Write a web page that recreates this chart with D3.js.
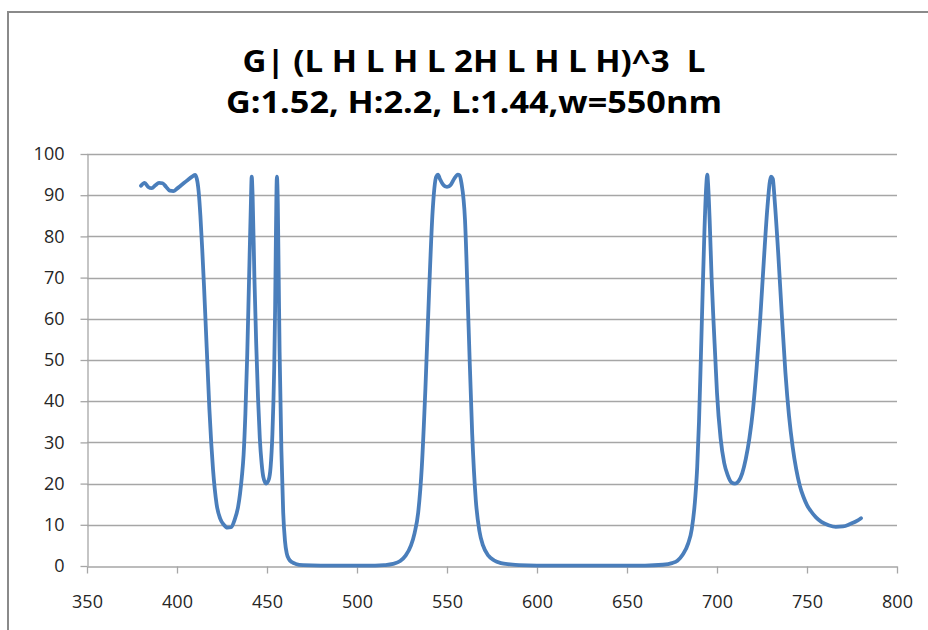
<!DOCTYPE html>
<html>
<head>
<meta charset="utf-8">
<script src="https://cdn.jsdelivr.net/npm/d3@7"></script>
<style>
  body { margin: 0; background: #fff; }
  svg text { font-family: "Open Sans", Lato, sans-serif; white-space: pre; }
</style>
</head>
<body>
<div id="theChart"></div>
<script>
const titleLines = ["G| (L H L H L 2H L H L H)^3  L", "G:1.52, H:2.2, L:1.44,w=550nm"]
const titleWidths = [463, 496]
const xTicks = [350, 400, 450, 500, 550, 600, 650, 700, 750, 800]
const yTicks = [0, 10, 20, 30, 40, 50, 60, 70, 80, 90, 100]

// wavelength (nm) and transmission (%)
const wavelength = [
	380, 382, 384, 386, 388, 390, 392, 394, 396, 398, 400, 402, 404, 406, 408, 410,
	411, 412, 413, 414, 415, 416, 417, 418, 419, 420, 422, 424, 426, 428, 430, 432,
	434, 435, 436, 437, 438, 439, 440, 441, 441.5, 442, 443, 444, 445, 446, 447, 448,
	449.5, 451, 452, 453, 454, 454.5, 455, 455.5, 456, 456.5, 457, 458, 459, 460,
	461, 462, 464, 466, 470, 480, 490, 500, 510, 515, 520, 524, 527, 530, 532, 534,
	536, 538, 540, 542, 544, 545, 546, 548, 550, 552, 554, 556, 557, 558, 560, 562,
	564, 566, 568, 570, 573, 576, 580, 585, 590, 600, 620, 640, 660, 670, 675, 678,
	681, 684, 686, 688, 689, 690, 691, 692, 693, 694, 694.6, 695, 696, 697, 698, 699,
	700, 702, 704, 706, 708, 710, 712, 714, 716, 718, 720, 722, 724, 726, 728, 730,
	731, 732, 734, 736, 738, 740, 742, 744, 746, 748, 750, 752, 755, 758, 762, 766, 770,
	774, 778, 780
]
const transmission = [
	92.3, 93.0, 92.0, 91.7, 92.4, 93.0, 92.9, 92.0, 91.1, 91.0, 91.6, 92.3, 93.0, 93.7, 94.4, 94.9,
	94.0, 91.0, 85.0, 77.0, 68.0, 58.0, 48.0, 38.0, 30.0, 23.5, 15.0, 11.5, 10.0, 9.3, 9.4, 11.2,
	14.5, 17.5, 21.5, 27.0, 37.0, 51.0, 69.0, 87.0, 94.5, 90.0, 70.0, 54.0, 41.0, 31.0, 25.0, 21.5,
	20.0, 21.0, 24.0, 32.0, 48.0, 62.0, 82.0, 94.5, 88.0, 70.0, 52.0, 28.0, 13.0, 6.0,
	3.0, 1.8, 0.9, 0.5, 0.2, 0.1, 0.1, 0.1, 0.1, 0.2, 0.5, 1.2, 2.5, 5.0, 8.0, 13.0,
	24.0, 43.0, 66.0, 86.0, 94.5, 95.0, 94.0, 92.5, 92.0, 92.5, 94.0, 95.0, 94.8, 93.0, 84.0, 58.0,
	32.0, 16.0, 8.5, 5.0, 2.5, 1.4, 0.7, 0.4, 0.2, 0.1, 0.1, 0.1, 0.1, 0.3, 0.7, 1.3,
	2.8, 5.5, 9.0, 17.0, 24.0, 35.0, 50.0, 66.0, 81.0, 92.0, 95.0, 93.0, 83.0, 70.0, 60.0, 51.0,
	42.0, 31.0, 25.0, 22.0, 20.3, 20.0, 20.6, 22.5, 26.0, 31.0, 38.0, 48.0, 60.0, 74.0, 87.0, 94.5,
	94.0, 89.0, 76.0, 61.0, 47.0, 36.5, 29.0, 23.5, 19.5, 16.8, 14.8, 13.4, 11.8, 10.7, 9.9, 9.5, 9.6,
	10.2, 11.0, 11.6
]

const w = 928
const h = 630
const margin = { top: 154, right: 31, bottom: 64, left: 87 }

const svg = d3
	.select("#theChart")
	.append("svg")
	.attr("width", w)
	.attr("height", h)

// chart area frame
svg.append("rect")
	.attr("x", 8)
	.attr("y", 12)
	.attr("width", w)
	.attr("height", h)
	.attr("fill", "#fff")
	.attr("stroke", "#8a8a8a")
	.attr("stroke-width", 2)

svg.selectAll("text.title")
	.data(titleLines)
	.enter()
	.append("text")
	.attr("class", "title")
	.attr("x", 474)
	.attr("y", (d, i) => 72 + i * 41)
	.attr("text-anchor", "middle")
	.attr("font-size", 31)
	.attr("font-weight", "bold")
	.attr("fill", "#000")
	.attr("textLength", (d, i) => titleWidths[i])
	.attr("lengthAdjust", "spacingAndGlyphs")
	.text(d => d)

const xScale = d3.scaleLinear().domain([350, 800]).range([margin.left, w - margin.right])
const yScale = d3.scaleLinear().domain([0, 100]).range([h - margin.bottom, margin.top])

// gridlines
svg.append("g")
	.selectAll("line")
	.data(yTicks.filter(d => d > 0))
	.enter()
	.append("line")
	.attr("x1", xScale(350))
	.attr("x2", xScale(800))
	.attr("y1", d => Math.round(yScale(d)) + 0.5)
	.attr("y2", d => Math.round(yScale(d)) + 0.5)
	.attr("stroke", "#a6a6a6")
	.attr("stroke-width", 1.3)

const xAxis = d3.axisBottom(xScale).tickValues(xTicks).tickSize(7).tickSizeOuter(0)
const yAxis = d3.axisLeft(yScale).tickValues(yTicks).tickSize(7).tickSizeOuter(0).tickPadding(16)

const gx = svg.append("g")
	.attr("transform", `translate(0,${Math.round(yScale(0)) + 0.5})`)
	.call(xAxis)
gx.selectAll("text").attr("y", 29)

const gy = svg.append("g")
	.attr("transform", `translate(${Math.round(xScale(350)) + 0.5},0)`)
	.call(yAxis)

for (const g of [gx, gy]) {
	g.selectAll("path, line").attr("stroke", "#a6a6a6").attr("stroke-width", 1.3)
	g.selectAll("text")
		.attr("font-size", 18)
		.attr("fill", "#262626")
		.style("font-family", "'Open Sans', Lato, sans-serif")
}

const points = wavelength.map((x, i) => [x, transmission[i]])

const line = d3.line()
	.x(d => xScale(d[0]))
	.y(d => yScale(d[1]))
	.curve(d3.curveMonotoneX)

svg.append("path")
	.datum(points)
	.attr("d", line)
	.attr("fill", "none")
	.attr("stroke", "#4a7ebb")
	.attr("stroke-width", 3.8)
	.attr("stroke-linejoin", "round")
	.attr("stroke-linecap", "round")
</script>
</body>
</html>
